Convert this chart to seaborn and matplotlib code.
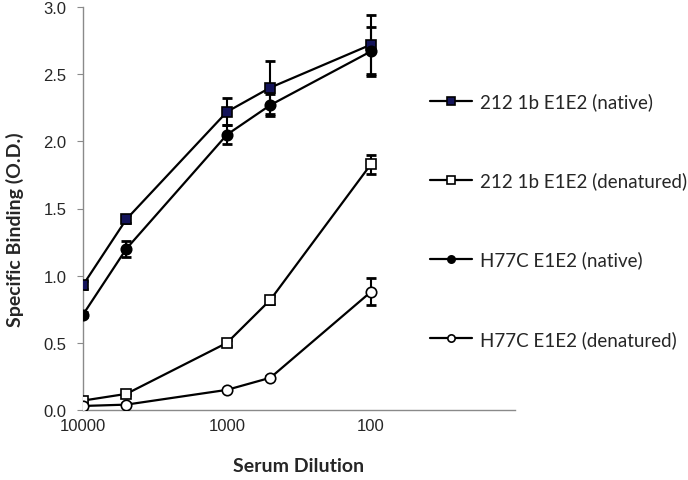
import numpy as np
import pandas as pd
import matplotlib
matplotlib.use("Agg")
import matplotlib.pyplot as plt
from matplotlib.ticker import FixedLocator, NullFormatter
import seaborn as sns

dilution = [10000, 5000, 1000, 500, 100]
series_names = ["212 1b E1E2 (native)", "212 1b E1E2 (denatured)",
                "H77C E1E2 (native)", "H77C E1E2 (denatured)"]
native_212 = [0.93, 1.42, 2.22, 2.40, 2.72]
denat_212 = [0.07, 0.12, 0.50, 0.82, 1.83]
native_h77c = [0.71, 1.20, 2.05, 2.27, 2.67]
denat_h77c = [0.03, 0.04, 0.15, 0.24, 0.88]
err_native_212 = [0.03, 0.03, 0.10, 0.20, 0.22]
err_denat_212 = [0.01, 0.01, 0.02, 0.03, 0.07]
err_native_h77c = [0.02, 0.06, 0.07, 0.08, 0.18]
err_denat_h77c = [0.01, 0.01, 0.01, 0.01, 0.10]
x_ticks = [10000, 1000, 100, 10]
x_ticklabels = ["10000", "1000", "100", ""]
y_ticks = [0.0, 0.5, 1.0, 1.5, 2.0, 2.5, 3.0]

sns.set_style("ticks")
plt.rcParams["font.family"] = ["Lato", "DejaVu Sans"]

fig = plt.figure(figsize=(6.88, 4.81), dpi=100)
ax = fig.add_axes([83 / 688, 1 - 411 / 481, 432 / 688, 403 / 481])

values = [native_212, denat_212, native_h77c, denat_h77c]
errors = [err_native_212, err_denat_212, err_native_h77c, err_denat_h77c]
markers = ["s", "s", "o", "o"]
faces = ["#14145a", "white", "black", "white"]

for name, v, e, m, fc in zip(series_names, values, errors, markers, faces):
    ax.errorbar(dilution, v, yerr=e, fmt="none", ecolor="black",
                elinewidth=1.5, capsize=3.5, capthick=2, zorder=2)
    df = pd.DataFrame({"dilution": dilution, "od": v})
    sns.lineplot(data=df, x="dilution", y="od", ax=ax, color="black",
                 linewidth=1.6, marker=m, markersize=7.5, markerfacecolor=fc,
                 markeredgecolor="black", markeredgewidth=1.2,
                 label=name, zorder=3)

ax.set_xscale("log")
ax.set_xlim(10000, 10)
ax.set_ylim(0, 3.0)
ax.xaxis.set_major_locator(FixedLocator(x_ticks))
ax.set_xticklabels(x_ticklabels)
ax.xaxis.set_minor_locator(FixedLocator([10]))
ax.xaxis.set_minor_formatter(NullFormatter())
ax.set_yticks(y_ticks)
ax.set_yticklabels([f"{t:.1f}" for t in y_ticks])
ax.tick_params(axis="x", which="major", length=0, pad=6,
               labelsize=12, labelfontfamily="Liberation Sans")
ax.tick_params(axis="x", which="minor", length=4, color="#8a8a8a")
ax.tick_params(axis="y", length=4, pad=8, color="#8a8a8a",
               labelsize=12, labelfontfamily="Liberation Sans")

for side in ["top", "right"]:
    ax.spines[side].set_visible(False)
for side in ["left", "bottom"]:
    ax.spines[side].set_color("#8a8a8a")
    ax.spines[side].set_linewidth(1)

ax.set_xlabel("Serum Dilution", fontsize=14, fontweight="bold")
ax.xaxis.set_label_coords(0.5, -0.1166)
ax.set_ylabel("Specific Binding (O.D.)", fontsize=14, fontweight="bold")
ax.yaxis.set_label_coords(-0.137, 0.45)

ax.legend(loc="center left", bbox_to_anchor=(430 / 688, 1 - 221 / 481),
          bbox_transform=fig.transFigure, frameon=False, fontsize=13.5,
          borderpad=0, borderaxespad=0, labelspacing=3.27,
          handlelength=2.24, handletextpad=0.43, markerscale=0.7)

fig.savefig("out.png", dpi=100)
